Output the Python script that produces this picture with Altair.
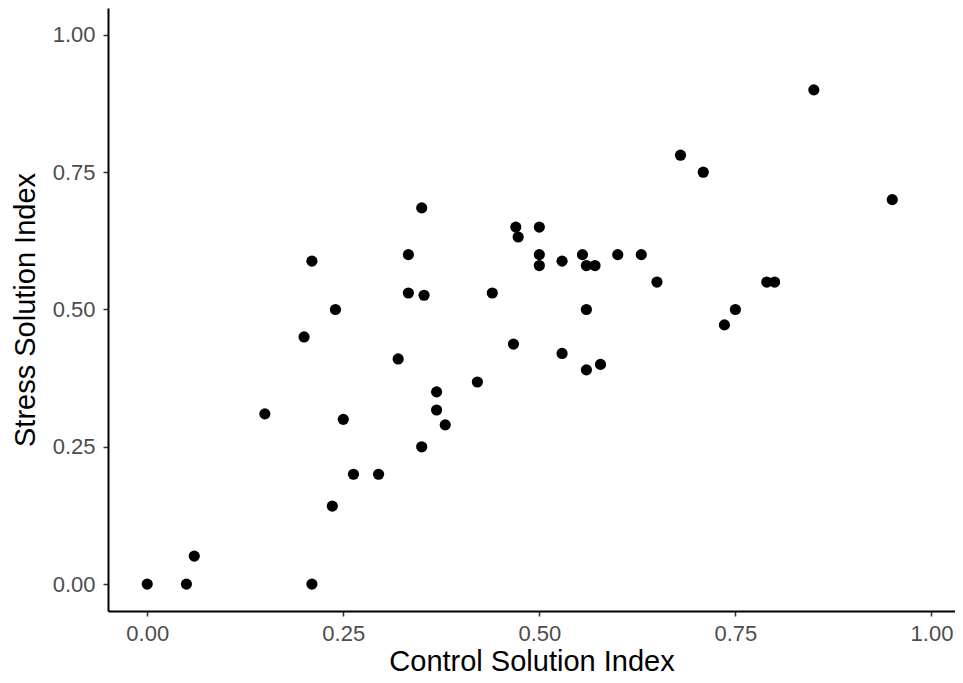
import altair as alt
import pandas as pd

control = [0.00, 0.05, 0.06, 0.21, 0.15, 0.20, 0.21, 0.24, 0.25, 0.263, 0.295, 0.236,
           0.32, 0.333, 0.333, 0.35, 0.353, 0.35, 0.369, 0.369, 0.38, 0.421, 0.44,
           0.467, 0.47, 0.473, 0.50, 0.50, 0.50, 0.529, 0.529, 0.555, 0.56, 0.571,
           0.56, 0.56, 0.578, 0.60, 0.63, 0.65, 0.68, 0.709, 0.736, 0.75, 0.79, 0.80,
           0.85, 0.95]
stress = [0.00, 0.00, 0.051, 0.00, 0.31, 0.45, 0.588, 0.50, 0.30, 0.20, 0.20, 0.142,
          0.41, 0.60, 0.53, 0.685, 0.526, 0.25, 0.35, 0.317, 0.29, 0.368, 0.53,
          0.437, 0.65, 0.632, 0.65, 0.60, 0.58, 0.588, 0.42, 0.60, 0.58, 0.58,
          0.50, 0.39, 0.40, 0.60, 0.60, 0.55, 0.781, 0.75, 0.472, 0.50, 0.55, 0.55,
          0.90, 0.70]
ticks = [0, 0.25, 0.5, 0.75, 1.0]

df = pd.DataFrame({"control": control, "stress": stress})

axis_common = dict(
    labelFont="Liberation Sans", labelFontSize=22, labelColor="#4d4d4d",
    titleFont="Liberation Sans", titleFontSize=29, titleColor="#000000",
    titleFontWeight="normal",
    domainColor="#000000", domainWidth=2, tickColor="#333333", tickWidth=1.5,
    tickSize=5, grid=False, values=ticks, format=".2f",
)

chart = alt.Chart(df).mark_circle(size=125, color="#000000", opacity=1).encode(
    x=alt.X("control:Q", title="Control Solution Index",
            scale=alt.Scale(domain=[-0.05, 1.03], nice=False, zero=False),
            axis=alt.Axis(titlePadding=3, labelPadding=7, **axis_common)),
    y=alt.Y("stress:Q", title="Stress Solution Index",
            scale=alt.Scale(domain=[-0.049, 1.049], nice=False, zero=False),
            axis=alt.Axis(titlePadding=12, labelPadding=8, **axis_common)),
).properties(
    width=847, height=603,
    padding={"left": 100, "top": 0, "right": 0, "bottom": 67},
    autosize="none",
    background="white",
).configure_view(stroke=None)

chart.save("out.html", embed_options={"renderer": "svg", "actions": False})
